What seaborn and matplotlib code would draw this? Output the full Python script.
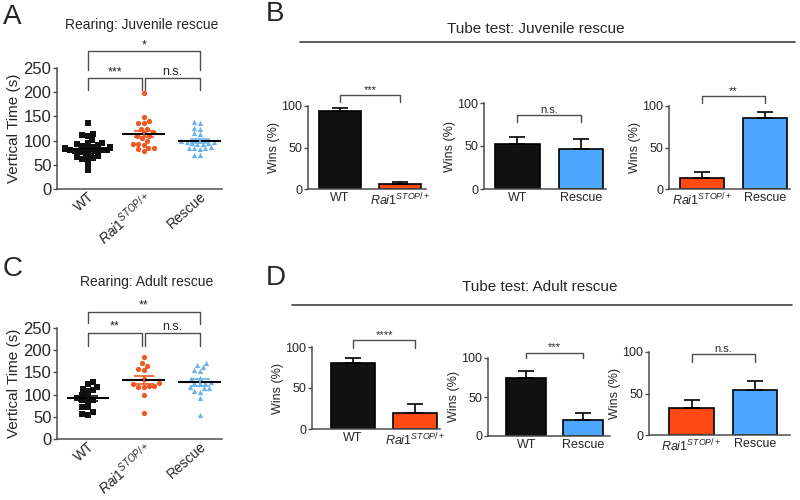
import numpy as np
import pandas as pd
import matplotlib
matplotlib.use("Agg")
import matplotlib.pyplot as plt
from matplotlib.lines import Line2D
import seaborn as sns

sns.set_style("ticks")
plt.rcParams['font.family'] = ['Liberation Sans', 'DejaVu Sans']
plt.rcParams['mathtext.fontset'] = 'custom'
plt.rcParams['mathtext.rm'] = 'Liberation Sans'
plt.rcParams['mathtext.it'] = 'Liberation Sans:italic'

# Rearing data (vertical time, s)
juv_wt = [136, 113, 110, 111, 101, 96, 95, 92, 90, 88, 87, 86, 85, 84, 83, 82,
          81, 80, 80, 79, 78, 77, 75, 72, 68, 66, 65, 63, 62, 50, 39]
juv_rai = [199, 149, 140, 136, 136, 125, 125, 118, 116, 110, 110, 105, 100,
           94, 94, 91, 85, 85, 82, 79]
juv_rescue = [139, 137, 127, 125, 116, 114, 100, 98, 97, 96, 95, 94, 93, 86,
              85, 84, 84, 83, 71, 70]
adult_wt = [128, 125, 118, 112, 110, 108, 99, 96, 92, 88, 87, 84, 73, 72, 60, 57, 54]
adult_rai = [185, 172, 165, 157, 155, 135, 120, 126, 124, 120, 118, 116, 99, 59]
adult_rescue = [172, 166, 163, 155, 153, 137, 135, 128, 127, 126, 124, 116, 115,
                114, 108, 106, 92, 54]
rear_juv_sig = ['***', 'n.s.', '*']     # WT-Rai1, Rai1-Rescue, WT-Rescue
rear_adult_sig = ['**', 'n.s.', '**']

# Tube test data (wins %, mean and sem)
tube_groups = [['WT', 'Rai1'], ['WT', 'Rescue'], ['Rai1', 'Rescue']]
juv_tube_means = [[94, 6], [52, 46], [13, 86]]
juv_tube_sems = [[3, 3], [8, 12], [7, 7]]
juv_tube_sig = ['***', 'n.s.', '**']
adult_tube_means = [[80, 20], [75, 21], [33, 54]]
adult_tube_sems = [[7, 10], [8, 8], [9, 11]]
adult_tube_sig = ['****', '***', 'n.s.']

RAI = r'$\mathit{Rai1}^{\mathit{STOP/+}}$'
tick_names = {'WT': 'WT', 'Rai1': RAI, 'Rescue': 'Rescue'}
dot_colors = {'WT': '#111111', 'Rai1': '#EE5A24', 'Rescue': '#6AB2EE'}
bar_colors = {'WT': '#111111', 'Rai1': '#FF4A14', 'Rescue': '#4DA6FF'}
markers = {'WT': 's', 'Rai1': 'o', 'Rescue': '^'}
AX_COL = '0.3'

W, H = 800, 500
fig = plt.figure(figsize=(8, 5), dpi=100)


def px_axes(x0, x1, ytop, ybot):
    ax = fig.add_axes([x0 / W, 1 - ybot / H, (x1 - x0) / W, (ybot - ytop) / H])
    sns.despine(ax=ax)
    for s in ['left', 'bottom']:
        ax.spines[s].set_color(AX_COL)
        ax.spines[s].set_linewidth(1.1)
    ax.tick_params(axis='y', color=AX_COL, length=3, width=1, pad=1)
    ax.tick_params(axis='x', length=0)
    return ax


def bracket(ax, x1, x2, y, d1, d2, text, fs):
    ax.plot([x1, x1, x2, x2], [d1, y, y, d2], color='0.3', lw=1, clip_on=False)
    ax.text((x1 + x2) / 2, y, text, ha='center', va='bottom', fontsize=fs, clip_on=False)


def rearing(ax, wt, rai, rescue, sig, lo, hi, top):
    names = ['WT', 'Rai1', 'Rescue']
    df = pd.DataFrame({'group': ['WT'] * len(wt) + ['Rai1'] * len(rai) + ['Rescue'] * len(rescue),
                       'value': wt + rai + rescue})
    for g in names:
        sns.swarmplot(data=df[df.group == g], x='group', y='value', order=names,
                      marker=markers[g], color=dot_colors[g], size=3.8, ax=ax)
    for i, g in enumerate(names):
        v = np.array(df[df.group == g].value)
        m, se = v.mean(), v.std(ddof=1) / np.sqrt(len(v))
        ax.hlines(m, i - 0.38, i + 0.38, color='k', lw=1.5, zorder=4)
        ax.errorbar(i, m, yerr=se, color=dot_colors[g], capsize=7, lw=1.2,
                    capthick=1.2, zorder=5)
    ax.set_xlim(-0.55, 2.4)
    ax.set_ylim(0, 250)
    ax.set_yticks([0, 50, 100, 150, 200, 250])
    ax.tick_params(axis='y', labelsize=12)
    ax.set_xlabel('')
    ax.set_ylabel('Vertical Time (s)', fontsize=11, labelpad=2)
    ax.set_xticks(range(3))
    ax.set_xticklabels([tick_names[n] for n in names], rotation=42, ha='right',
                       rotation_mode='anchor', fontsize=10)
    ax.tick_params(axis='x', pad=0.5)
    bracket(ax, 0, 0.97, lo[0], lo[1], lo[1], sig[0], 9)
    bracket(ax, 1.03, 2, lo[0], lo[1], lo[1], sig[1], 9)
    bracket(ax, 0, 2, hi[0], top[0], top[1], sig[2], 9)


def tube(ax, groups, means, sems, sig, by, bdrop):
    sns.barplot(x=groups, y=means, hue=groups, palette=[bar_colors[g] for g in groups],
                legend=False, width=0.7, edgecolor='k', linewidth=1.2, saturation=1,
                errorbar=None, ax=ax)
    ax.errorbar(range(2), means, yerr=[[0, 0], sems], fmt='none', ecolor='k',
                capsize=6, lw=1.2, capthick=1.2, zorder=5)
    ax.set_ylim(0, 100)
    ax.set_yticks([0, 50, 100])
    ax.tick_params(axis='y', labelsize=9)
    ax.set_ylabel('Wins (%)', fontsize=9, labelpad=1)
    ax.set_xticks(range(2))
    ax.set_xticklabels([tick_names[g] for g in groups], fontsize=9)
    ax.tick_params(axis='x', pad=2)
    bracket(ax, 0, 1, by, bdrop, bdrop, sig, 8)


# Panel A
axA = px_axes(57, 222, 68, 189)
rearing(axA, juv_wt, juv_rai, juv_rescue, rear_juv_sig, (229, 205), (285, 0), (246, 246))
# Panel C
axC = px_axes(57, 222, 328, 439)
rearing(axC, adult_wt, adult_rai, adult_rescue, rear_adult_sig, (239, 209), (287, 0), (262, 260))

# Panel B
b_boxes = [(308, 426, 106, 189, -0.53, 1.43), (484, 606, 103, 189, -0.52, 1.39),
           (669, 790, 106, 189, -0.52, 1.40)]
b_br = [(113, 105), (86, 78), (112, 104)]
for k, (x0, x1, yt, yb, l, r) in enumerate(b_boxes):
    ax = px_axes(x0, x1, yt, yb)
    tube(ax, tube_groups[k], juv_tube_means[k], juv_tube_sems[k], juv_tube_sig[k], *b_br[k])
    ax.set_xlim(l, r)

# Panel D
d_boxes = [(312, 440, 347, 429, -0.66, 1.40), (488, 610, 358, 436, -0.67, 1.47),
           (649, 790, 352, 435, -0.67, 1.55)]
d_br = [(108, 99), (107, 100), (98, 88)]
for k, (x0, x1, yt, yb, l, r) in enumerate(d_boxes):
    ax = px_axes(x0, x1, yt, yb)
    tube(ax, tube_groups[k], adult_tube_means[k], adult_tube_sems[k], adult_tube_sig[k], *d_br[k])
    ax.set_xlim(l, r)

# Titles, letters, section lines
fig.text(142 / W, 1 - 25 / H, 'Rearing: Juvenile rescue', ha='center', va='center', fontsize=10)
fig.text(147 / W, 1 - 282 / H, 'Rearing: Adult rescue', ha='center', va='center', fontsize=10)
fig.text(536 / W, 1 - 29 / H, 'Tube test: Juvenile rescue', ha='center', va='center', fontsize=11)
fig.text(540 / W, 1 - 287 / H, 'Tube test: Adult rescue', ha='center', va='center', fontsize=11)
for letter, x, y in [('A', 3, 17), ('B', 266, 14), ('C', 3, 269), ('D', 266, 278)]:
    fig.text(x / W, 1 - y / H, letter, ha='left', va='center', fontsize=20)
fig.add_artist(Line2D([300 / W, 795 / W], [1 - 42 / H] * 2, color='0.25', lw=1.2))
fig.add_artist(Line2D([292 / W, 792 / W], [1 - 305 / H] * 2, color='0.25', lw=1.2))

fig.savefig('out.png', dpi=100)
